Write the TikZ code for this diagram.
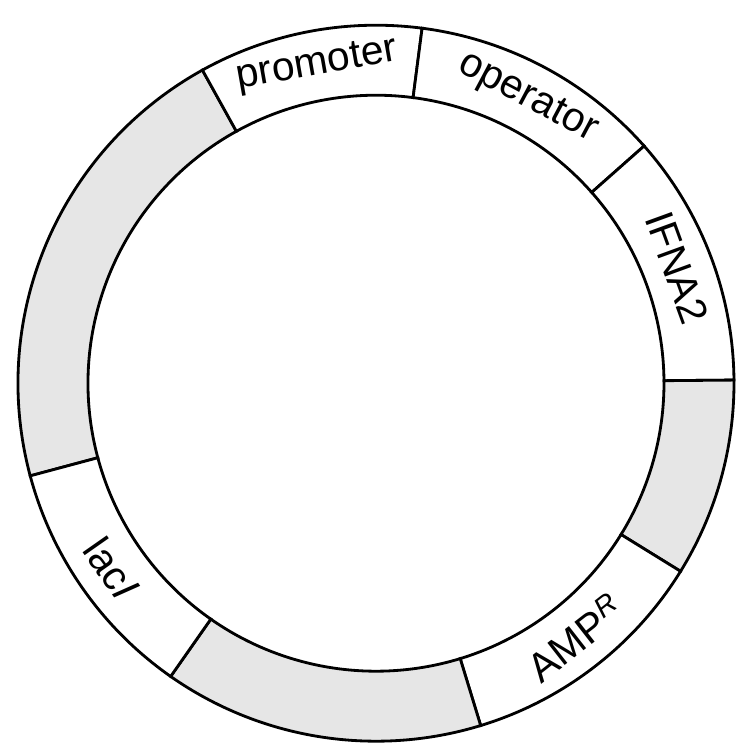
\documentclass[tikz,border=0pt]{standalone}
\usepackage{fontspec}
\setmainfont{Liberation Sans}
\usetikzlibrary{calc}
\definecolor{seggray}{RGB}{230,230,230}
\begin{document}
\begin{tikzpicture}[
    seg/.style={draw, line width=2pt},
    lbl/.style={font=\fontsize{29}{34}\selectfont, inner sep=0pt}
]
\useasboundingbox (0,0) rectangle (18.7,18.7);
\coordinate (c) at (9.4,9.12);

% Ring segments: start angle / end angle / fill
\foreach \a/\b/\f in {119/195/seggray, 82.6/119/white, 41.5/82.6/white,
    0.5/41.5/white, -31.7/0.5/seggray, -73/-31.7/white,
    -125/-73/seggray, -165/-125/white}
  \draw[seg, fill=\f] ($(c)+(\a:8.95)$) arc (\a:\b:8.95)
    -- ($(c)+(\b:7.2)$) arc (\b:\a:7.2) -- cycle;

% Labels
\node[lbl, rotate=10] (promoter) at ($(c)+(100.5:8.07)$) {promoter};
\node[lbl, rotate=-28] (operator) at ($(c)+(62:8.07)$) {operator};
\node[lbl, rotate=-70] (ifna) at ($(c)+(21:8.07)$) {IFNA2};
\node[lbl, rotate=38] (ampr) at ($(c)+(-52:8.07)$) {AMP\textsuperscript{\itshape R}};
\node[lbl, rotate=-55] (laci) at ($(c)+(-145:8.07)$) {lac\textit{I}};
\end{tikzpicture}
\end{document}
